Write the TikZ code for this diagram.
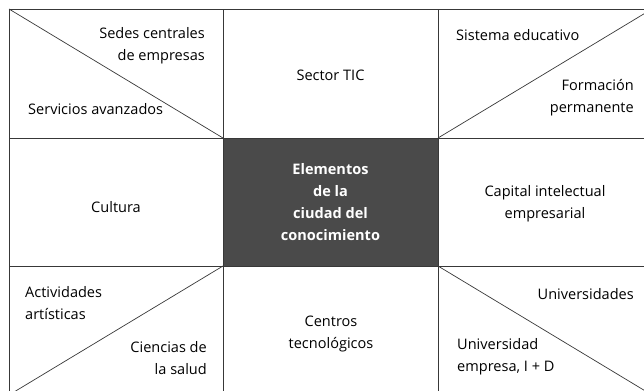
\documentclass[tikz,border=0pt]{standalone}
\usepackage{fontspec}
\setmainfont{Open Sans}
\usetikzlibrary{positioning}

\definecolor{gridline}{gray}{0.22}
\definecolor{boxfill}{HTML}{4A4A4A}

\tikzset{
  celltext/.style={inner sep=0pt, text=black},
  hub/.style={draw=gridline, fill=boxfill, text=white, font=\bfseries\fontsize{12.4}{18.7}\selectfont,
    align=center, minimum width=6.45cm, minimum height=3.84cm, inner sep=0pt},
  rule/.style={draw=gridline, line width=0.6pt},
}

\begin{document}
\begin{tikzpicture}[x=0.03cm, y=-0.03cm, font=\fontsize{12.4}{18.7}\selectfont]

\clip (0,0) rectangle (644,390);

% grid corners
\coordinate (A) at (9,9);
\coordinate (B) at (223,9);
\coordinate (C) at (438,9);
\coordinate (D) at (652,9);
\coordinate (E) at (9,138);
\coordinate (F) at (223,138);
\coordinate (G) at (438,138);
\coordinate (H) at (652,138);
\coordinate (I) at (9,266);
\coordinate (J) at (223,266);
\coordinate (K) at (438,266);
\coordinate (L) at (652,266);
\coordinate (M) at (9,395);
\coordinate (N) at (223,395);
\coordinate (O) at (438,395);
\coordinate (P) at (652,395);

\draw[rule] (A) rectangle (P);
\draw[rule] (E) -- (H);
\draw[rule] (I) -- (L);
\draw[rule] (B) -- (N);
\draw[rule] (C) -- (O);

% diagonals
\draw[rule] (A) -- (F);
\draw[rule] (G) -- (D);
\draw[rule] (J) -- (M);
\draw[rule] (K) -- (P);

\node[hub] (centre) at (330.5,202) {Elementos\\de la\\ciudad del\\conocimiento};

% top row
\node[celltext, anchor=east, align=right] (sedes) at (205,46) {Sedes centrales\\de empresas};
\node[celltext, anchor=west] (servicios) at (28,109) {Servicios avanzados};
\node[celltext] (tic) at (330.5,75) {Sector TIC};
\node[celltext, anchor=west] (sistema) at (456,35) {Sistema educativo};
\node[celltext, anchor=east, align=right] (formacion) at (634,98) {Formación\\permanente};

% middle row
\node[celltext] (cultura) at (116,207) {Cultura};
\node[celltext, align=center] (capital) at (545,204) {Capital intelectual\\empresarial};

% bottom row
\node[celltext, anchor=west, align=left] (actividades) at (25,303) {Actividades\\artísticas};
\node[celltext, anchor=east, align=right] (ciencias) at (207,358) {Ciencias de\\la salud};
\node[celltext, align=center] (centros) at (331,334) {Centros\\tecnológicos};
\node[celltext, anchor=east] (universidades) at (634,294) {Universidades};
\node[celltext, anchor=west, align=left] (unemp) at (457,357) {Universidad\\empresa, I + D};

\end{tikzpicture}
\end{document}
